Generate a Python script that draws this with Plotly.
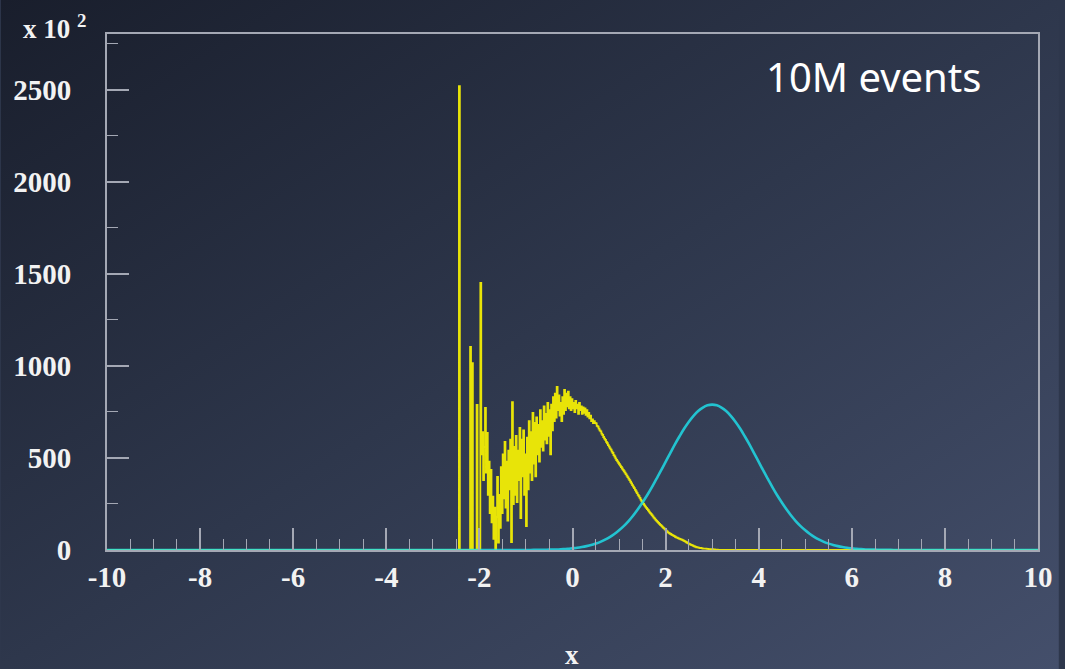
import base64
import numpy as np
import plotly.graph_objects as go

# ---------------- data ----------------
# yellow histogram: bins of width 0.02 starting at x = -2.46
yellow_start = -2.46
yellow_width = 0.02
yellow_counts = [
    # -2.46 .. -1.96
    0, 2520, 0, 0, 0, 0, 0, 0, 0, 0,
    0, 0, 0, 1103, 0, 1016, 0, 0, 0, 0,
    788, 0, 0, 0, 1451,
    # -1.96 .. 0.46
    520, 640, 380, 560, 772, 420, 636, 300, 480, 200,
    435, 150, 290, 60, 230, 0, 180, 397, 40, 300,
    120, 450, 200, 520, 280, 587, 230, 480, 160, 540,
    330, 600, 43, 804, 250, 560, 300, 620, 260, 540,
    380, 663, 174, 600, 400, 650, 300, 520, 130, 610,
    330, 700, 420, 640, 380, 745, 470, 690, 400, 720,
    520, 680, 480, 760, 560, 700, 540, 780, 600, 740,
    580, 800, 620, 760, 520, 790, 650, 830, 700, 850,
    720, 886, 760, 840, 730, 800, 700, 830, 740, 870,
    760, 850, 780, 860, 770, 830, 760, 820, 770, 800,
    750, 810, 770, 790, 740, 800, 760, 780, 740, 775,
    745, 770, 735, 760, 725, 745, 715, 730, 700, 710,
    690,
    # 0.46 .. 3.22
    700, 690, 688, 675, 670, 660, 650, 645, 632, 625,
    614, 605, 598, 588, 580, 570, 562, 552, 545, 535,
    527, 516, 508, 498, 489, 482, 474, 466, 458, 451,
    443, 435, 428, 420, 412, 404, 396, 388, 380, 371,
    362, 353, 344, 336, 327, 318, 309, 300, 292, 283,
    274, 265, 257, 250, 243, 236, 229, 222, 216, 209,
    202, 196, 189, 183, 176, 170, 164, 158, 153, 147,
    142, 137, 132, 127, 122, 117, 112, 107, 102, 97,
    93, 90, 87, 84, 81, 78, 75, 72, 69, 67,
    64, 62, 60, 58, 56, 54, 51, 48, 45, 42,
    39, 36, 33, 31, 28, 26, 24, 21, 19, 17,
    15, 14, 13, 12, 11, 10, 9, 8, 8, 7,
    7, 6, 6, 5, 5, 5, 4, 4, 3, 3,
    2, 2, 2, 1, 1, 1, 1, 0,
]

# cyan curve: sampled every 0.1 from x = -0.9 to 6.9
cyan_start = -0.9
cyan_step = 0.1
cyan_counts = [
    0, 1, 1, 1, 2, 2, 3, 5, 6, 9,
    12, 16, 21, 27, 35, 44, 56, 70, 87, 107,
    130, 156, 186, 220, 257, 296, 339, 385, 431, 479,
    527, 574, 618, 660, 697, 729, 755, 774, 786, 790,
    786, 774, 755, 729, 697, 660, 618, 574, 527, 479,
    431, 385, 339, 296, 257, 220, 186, 156, 130, 107,
    87, 70, 56, 44, 35, 27, 21, 16, 12, 9,
    6, 5, 3, 2, 2, 1, 1, 1, 0,
]

x_range = [-10, 10]
y_range = [0, 2804]
x_ticks = [-10, -8, -6, -4, -2, 0, 2, 4, 6, 8, 10]
x_tick_labels = ["-10", "-8", "-6", "-4", "-2", "0", "2", "4", "6", "8", "10"]
y_ticks = [0, 500, 1000, 1500, 2000, 2500]
y_tick_labels = ["0", "500", "1000", "1500", "2000", "2500"]

# ---------------- build traces ----------------
n_y = len(yellow_counts)
y_edges = np.round(yellow_start + yellow_width * np.arange(n_y + 1), 4)
yx = [x_range[0]] + list(y_edges[:-1]) + [float(y_edges[-1]), x_range[1]]
yy = [0] + list(yellow_counts) + [0, 0]

n_c = len(cyan_counts)
c_grid = np.round(cyan_start + cyan_step * np.arange(n_c), 4)
cx = [x_range[0]] + list(c_grid) + [x_range[1]]
cy = [0] + list(cyan_counts) + [0]

fig = go.Figure()
fig.add_trace(go.Scatter(x=yx, y=yy, mode="lines", line_shape="hv",
                         line=dict(color="rgb(232,228,8)", width=1.8),
                         hoverinfo="skip", showlegend=False))
fig.add_trace(go.Scatter(x=cx, y=cy, mode="lines", line_shape="spline",
                         line=dict(color="rgba(30,225,235,0.82)", width=2.6),
                         hoverinfo="skip", showlegend=False))

# ---------------- background gradient ----------------
svg = ('<svg xmlns="http://www.w3.org/2000/svg" width="1065" height="669" '
       'preserveAspectRatio="none">'
       '<defs><linearGradient id="g" x1="0" y1="0" x2="1" y2="1">'
       '<stop offset="0" stop-color="#191e2c"/>'
       '<stop offset="0.5" stop-color="#2e374c"/>'
       '<stop offset="1" stop-color="#444f6b"/>'
       '</linearGradient></defs>'
       '<rect width="1065" height="669" fill="url(#g)"/></svg>')
src = "data:image/svg+xml;base64," + base64.b64encode(svg.encode()).decode()

W, H = 1065, 669
L, R, T, B = 107, 21, 34, 119
pw, ph = W - L - R, H - T - B

def px(xp):
    return (xp - L) / pw

def py(yp):
    return (H - B - yp) / ph

fig.add_layout_image(dict(source=src, xref="paper", yref="paper",
                          x=px(0), y=py(0), sizex=W / pw, sizey=H / ph,
                          xanchor="left", yanchor="top", sizing="stretch",
                          layer="below"))

axis_col = "#a4a8b4"
tick_font = dict(family="Liberation Serif", size=29, color="#f2f2f2", weight="bold")

fig.update_xaxes(range=x_range, showline=True, linecolor=axis_col, linewidth=2,
                 mirror=True, ticks="inside", tickvals=x_ticks,
                 ticktext=x_tick_labels, ticklen=22,
                 tickwidth=1.5, tickcolor=axis_col, showgrid=False, zeroline=False,
                 tickfont=tick_font, ticklabelstandoff=0,
                 minor=dict(dtick=0.5, tick0=-10, ticks="inside", ticklen=11,
                            tickwidth=1.2, tickcolor=axis_col, showgrid=False))
fig.update_yaxes(range=y_range, showline=True, linecolor=axis_col, linewidth=2,
                 mirror=True, ticks="inside", tickvals=y_ticks,
                 ticktext=y_tick_labels, ticklen=22,
                 tickwidth=1.5, tickcolor=axis_col, showgrid=False, zeroline=False,
                 tickfont=tick_font, ticklabelstandoff=28,
                 minor=dict(dtick=250, tick0=0, ticks="inside", ticklen=11,
                            tickwidth=1.2, tickcolor=axis_col, showgrid=False))

fig.add_annotation(text="x 10 <sup>2</sup>", xref="paper", yref="paper",
                   x=px(20), y=py(27), xanchor="left", yanchor="middle",
                   showarrow=False,
                   font=dict(family="Liberation Serif", size=27, color="#f2f2f2",
                             weight="bold"))
fig.add_annotation(text="x", xref="paper", yref="paper",
                   x=px(575), y=py(655), xanchor="center", yanchor="middle",
                   showarrow=False,
                   font=dict(family="Liberation Serif", size=27, color="#f2f2f2",
                             weight="bold"))
fig.add_annotation(text="10M events", xref="paper", yref="paper",
                   x=px(878), y=py(76), xanchor="center", yanchor="middle",
                   showarrow=False,
                   font=dict(family="Noto Sans", size=40, color="#ffffff"))

fig.update_layout(width=W, height=H, margin=dict(l=L, r=R, t=T, b=B),
                  paper_bgcolor="#2e374c", plot_bgcolor="rgba(0,0,0,0)",
                  showlegend=False)

fig.write_html("out.html", config={"displayModeBar": False},
               post_script="document.body.style.margin='0';"
                           "document.body.style.padding='0';"
                           "document.body.style.overflow='hidden';")
